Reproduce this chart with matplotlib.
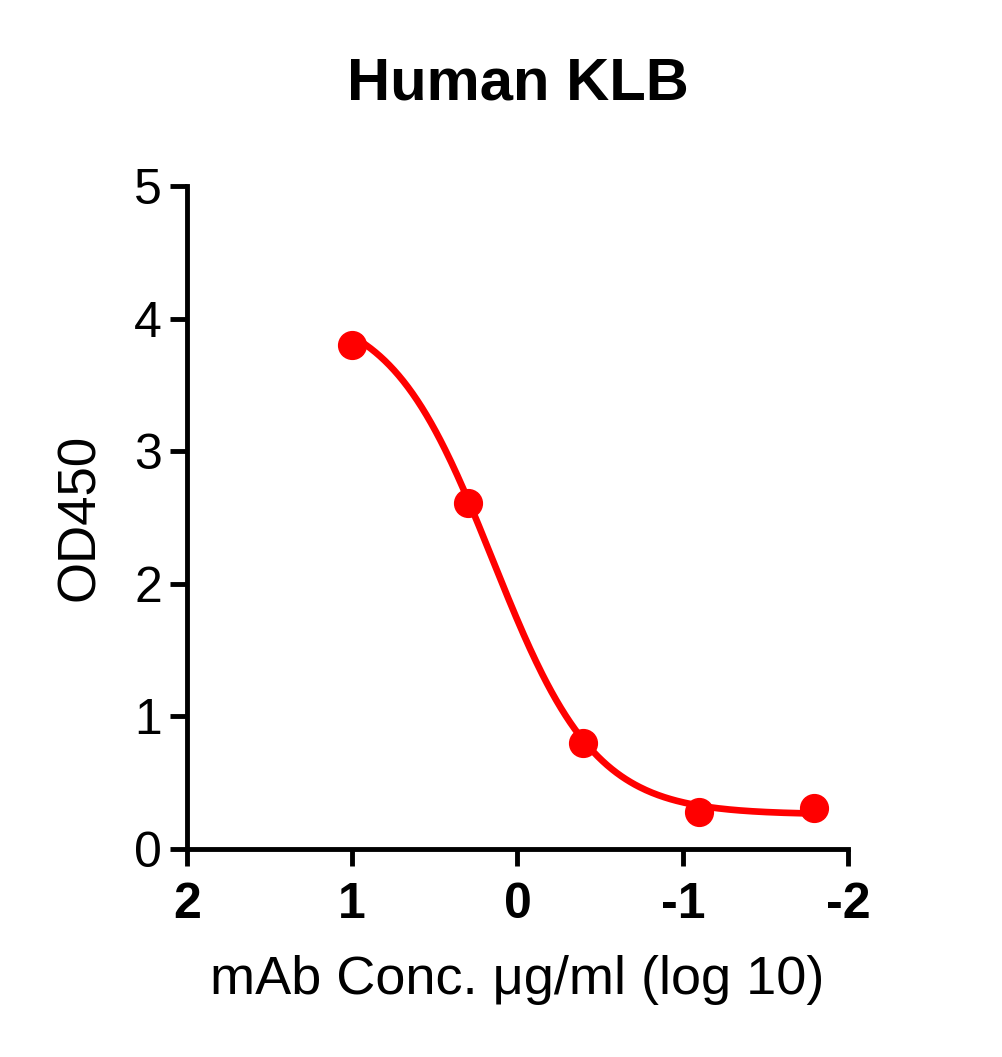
import numpy as np
import matplotlib.pyplot as plt

plt.rcParams['font.family'] = ['Liberation Sans', 'DejaVu Sans']

# data (x = log10 of mAb conc. in ug/ml)
log_conc = [1.0, 0.301, -0.398, -1.097, -1.796]
od450 = [3.80, 2.61, 0.80, 0.28, 0.31]

# 4PL fit parameters estimated from the drawn curve
fit_bottom = 0.26
fit_top = 4.1
fit_logec50 = 0.15
fit_hill = 1.4

x_ticks = [2, 1, 0, -1, -2]
y_ticks = [0, 1, 2, 3, 4, 5]


def four_pl(x):
    return fit_bottom + (fit_top - fit_bottom) / (1 + 10 ** (fit_hill * (fit_logec50 - x)))


fig = plt.figure(figsize=(10.03, 10.57), dpi=100)
ax = fig.add_axes([0.1864, 0.1968, 0.6591, 0.6272])

xs = np.linspace(max(log_conc), min(log_conc), 300)
ax.plot(xs, four_pl(xs), color='#ff0000', lw=4.8, zorder=2)
ax.plot(log_conc, od450, 'o', color='#ff0000', ms=20, zorder=3, clip_on=False)

ax.set_xlim(2, -2)
ax.set_ylim(0, 5)
ax.set_xticks(x_ticks)
ax.set_yticks(y_ticks)
ax.set_xticklabels([str(t) for t in x_ticks], fontweight='bold')

for side in ['top', 'right']:
    ax.spines[side].set_visible(False)
for side in ['left', 'bottom']:
    ax.spines[side].set_linewidth(3.5)
    ax.spines[side].set_capstyle('projecting')

ax.tick_params(axis='both', width=3.5, length=12, labelsize=36)
ax.tick_params(axis='x', pad=12)
ax.tick_params(axis='y', pad=6)

ax.set_title('Human KLB', fontsize=43, fontweight='bold', pad=62)
ax.set_xlabel('mAb Conc. \u03bcg/ml (log 10)', fontsize=39, labelpad=19)
ax.set_ylabel('OD450', fontsize=38, labelpad=21)

fig.savefig('out.png', dpi=100, facecolor='white')
